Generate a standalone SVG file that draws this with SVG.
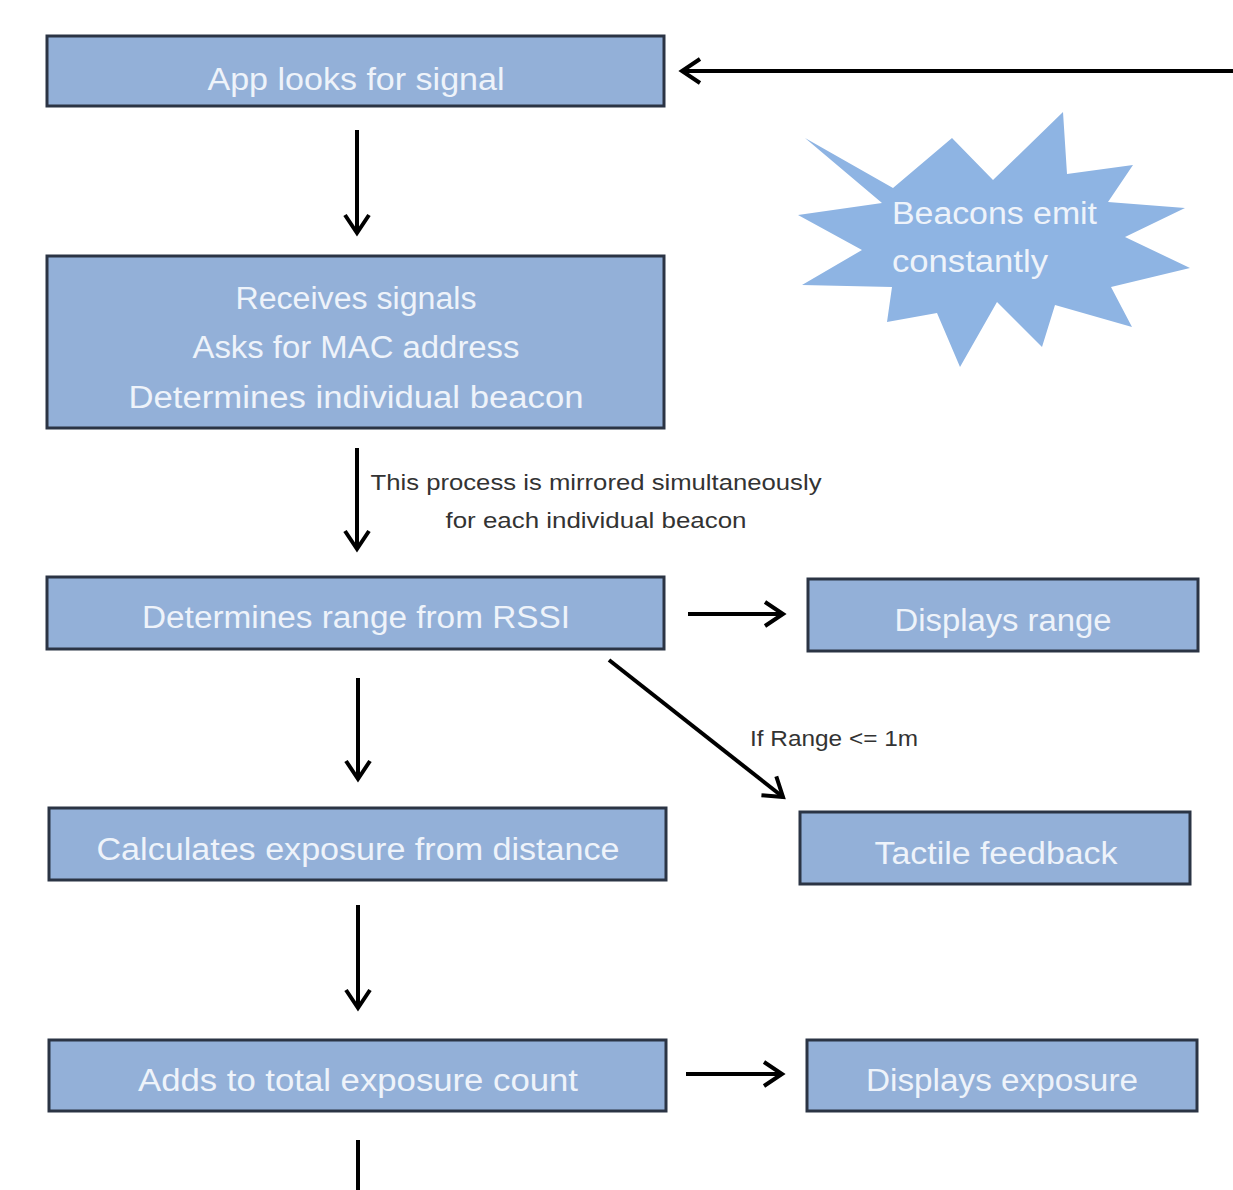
<svg xmlns="http://www.w3.org/2000/svg" width="1233" height="1190" viewBox="0 0 1233 1190">
<style>
.box{fill:#93b0d8;stroke:#2b3444;stroke-width:3}
.bt{font-family:"Liberation Sans",Arial,sans-serif;font-size:31px;fill:#eef3fa;text-anchor:middle}
.st{font-family:"Liberation Sans",Arial,sans-serif;font-size:31px;fill:#eef3fa}
.lb{font-family:"Liberation Sans",Arial,sans-serif;font-size:22px;fill:#333;text-anchor:middle}
.ar{stroke:#000;stroke-width:4;fill:none}
</style>
<defs>
<marker id="ah" markerUnits="userSpaceOnUse" markerWidth="44" markerHeight="44" viewBox="-22 -22 44 44" refX="0" refY="0" orient="auto">
<path d="M-18,-12 L0,0 L-18,12" fill="none" stroke="#000" stroke-width="4" stroke-linejoin="miter"/>
</marker>
</defs>
<rect width="1233" height="1190" fill="#fff"/>
<g id="star">
<polygon points="805,138 893,188 952,138 993,180 1063,112 1067,174 1133,165 1108,202 1185,208 1125,237 1190,268 1111,287 1132,327 1055,305 1042,347 997,302 960,367 937,313 887,322 892,287 802,285 862,250 798,215 882,203" fill="#8eb4e3"/>
<text class="st" x="892" y="224" textLength="205" lengthAdjust="spacingAndGlyphs">Beacons emit</text>
<text class="st" x="892" y="272" textLength="156" lengthAdjust="spacingAndGlyphs">constantly</text>
</g>
<g id="n1">
<rect class="box" x="47" y="36" width="617" height="70"/>
<text class="bt" x="356" y="90" textLength="297" lengthAdjust="spacingAndGlyphs">App looks for signal</text>
</g>
<g id="n2">
<rect class="box" x="47" y="256" width="617" height="172"/>
<text class="bt" x="356" y="309" textLength="241" lengthAdjust="spacingAndGlyphs">Receives signals</text>
<text class="bt" x="356" y="358" textLength="327" lengthAdjust="spacingAndGlyphs">Asks for MAC address</text>
<text class="bt" x="356" y="408" textLength="455" lengthAdjust="spacingAndGlyphs">Determines individual beacon</text>
</g>
<g id="n3">
<rect class="box" x="47" y="577" width="617" height="72"/>
<text class="bt" x="356" y="628" textLength="428" lengthAdjust="spacingAndGlyphs">Determines range from RSSI</text>
</g>
<g id="n4">
<rect class="box" x="808" y="579" width="390" height="72"/>
<text class="bt" x="1003" y="631" textLength="217" lengthAdjust="spacingAndGlyphs">Displays range</text>
</g>
<g id="n5">
<rect class="box" x="49" y="808" width="617" height="72"/>
<text class="bt" x="358" y="860" textLength="523" lengthAdjust="spacingAndGlyphs">Calculates exposure from distance</text>
</g>
<g id="n6">
<rect class="box" x="800" y="812" width="390" height="72"/>
<text class="bt" x="996" y="864" textLength="243" lengthAdjust="spacingAndGlyphs">Tactile feedback</text>
</g>
<g id="n7">
<rect class="box" x="49" y="1040" width="617" height="71"/>
<text class="bt" x="358" y="1091" textLength="440" lengthAdjust="spacingAndGlyphs">Adds to total exposure count</text>
</g>
<g id="n8">
<rect class="box" x="807" y="1040" width="390" height="71"/>
<text class="bt" x="1002" y="1091" textLength="272" lengthAdjust="spacingAndGlyphs">Displays exposure</text>
</g>
<g id="connectors">
<line class="ar" x1="1233" y1="71" x2="682" y2="71" marker-end="url(#ah)"/>
<line class="ar" x1="357" y1="130" x2="357" y2="233" marker-end="url(#ah)"/>
<line class="ar" x1="357" y1="448" x2="357" y2="549" marker-end="url(#ah)"/>
<line class="ar" x1="688" y1="614" x2="783" y2="614" marker-end="url(#ah)"/>
<line class="ar" x1="609" y1="660" x2="783" y2="797" marker-end="url(#ah)"/>
<line class="ar" x1="358" y1="678" x2="358" y2="779" marker-end="url(#ah)"/>
<line class="ar" x1="358" y1="905" x2="358" y2="1008" marker-end="url(#ah)"/>
<line class="ar" x1="686" y1="1074" x2="782" y2="1074" marker-end="url(#ah)"/>
<line class="ar" x1="358" y1="1140" x2="358" y2="1190"/>
<text class="lb" x="596" y="490" textLength="451" lengthAdjust="spacingAndGlyphs">This process is mirrored simultaneously</text>
<text class="lb" x="596" y="528" textLength="301" lengthAdjust="spacingAndGlyphs">for each individual beacon</text>
<text class="lb" x="834" y="746" textLength="168" lengthAdjust="spacingAndGlyphs">If Range &lt;= 1m</text>
</g>
</svg>
